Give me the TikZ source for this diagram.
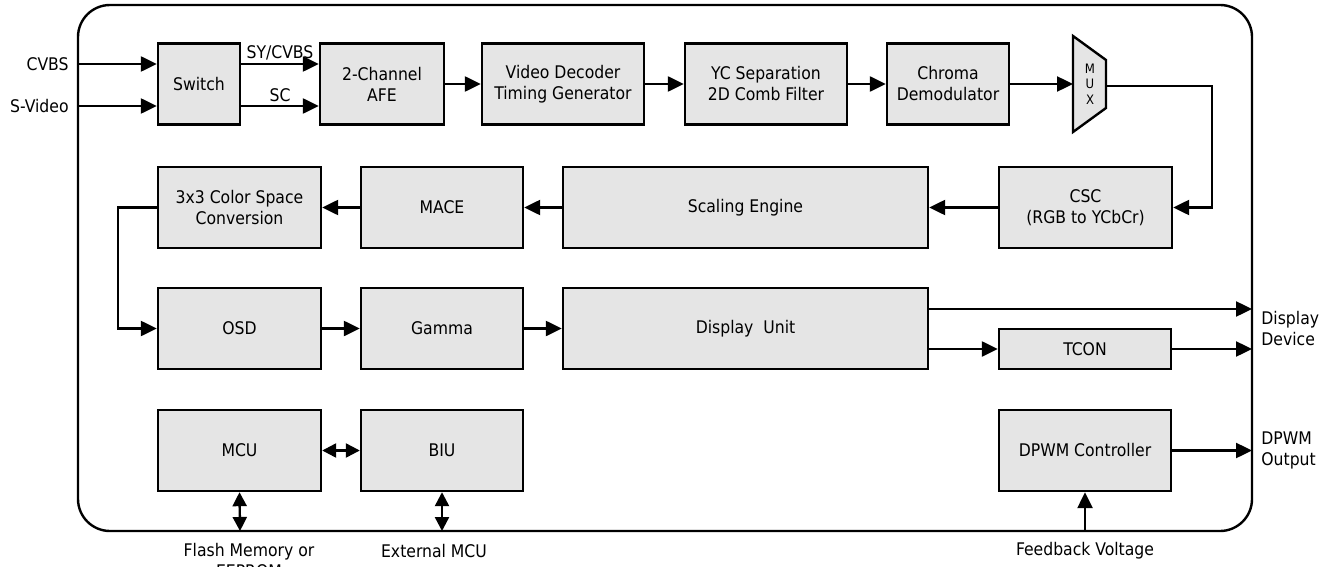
\documentclass[tikz,border=0pt]{standalone}
\usepackage{fontspec}
\setmainfont{DejaVu Sans Condensed}
\usetikzlibrary{arrows.meta}
\begin{document}
\begin{tikzpicture}[x=0.5pt,y=-0.5pt,
        every node/.append style={font=\fontsize{8.7}{10.5}\selectfont},
        blk/.style={draw,line width=1.2pt,fill=black!10,align=center,inner sep=0pt,minimum height=40.5pt},
        arr/.style={line width=1.2pt,-{Triangle[length=8pt,width=7.5pt]}},
        biarr/.style={line width=1.2pt,{Triangle[length=7pt,width=7pt]}-{Triangle[length=7pt,width=7pt]}},
        lbl/.style={align=left,inner sep=0pt}]
    \useasboundingbox (0,0) rectangle (1332,567);
    % chip outline
    \draw[line width=1.2pt,rounded corners=16pt] (78,5) rectangle (1252,531);
    % first row
    \node[blk,minimum width=41pt] (sw) at (199,84) {Switch};
    \node[blk,minimum width=62pt] (afe) at (382,84) {2-Channel\\AFE};
    \node[blk,minimum width=81pt] (vdec) at (563,84) {Video Decoder\\Timing Generator};
    \node[blk,minimum width=81pt] (yc) at (766,84) {YC Separation\\2D Comb Filter};
    \node[blk,minimum width=61pt] (chroma) at (948,84) {Chroma\\Demodulator};
    \draw[line width=1.2pt,fill=black!10] (1073,36) -- (1106,60) -- (1106,108) -- (1073,132) -- cycle;
    \node[align=center,inner sep=0pt,font=\fontsize{6.5}{7.75}\selectfont] (mux) at (1090,84) {M\\U\\X};
    % second row
    \node[blk,minimum width=86.5pt] (csc) at (1085.5,207.5) {CSC\\(RGB to YCbCr)};
    \node[blk,minimum width=182.5pt] (scale) at (745.5,207.5) {Scaling Engine};
    \node[blk,minimum width=81pt] (mace) at (442,207.5) {MACE};
    \node[blk,minimum width=81.5pt] (cs3) at (239.5,207.5) {3x3 Color Space\\Conversion};
    % third row
    \node[blk,minimum width=81.5pt] (osd) at (239.5,328.5) {OSD};
    \node[blk,minimum width=81pt] (gamma) at (442,328.5) {Gamma};
    \node[blk,minimum width=182.5pt] (disp) at (745.5,328.5) {Display\ \ Unit};
    \node[blk,minimum width=86pt,minimum height=20pt] (tcon) at (1085,349) {TCON};
    % fourth row
    \node[blk,minimum width=81.5pt] (mcu) at (239.5,450.5) {MCU};
    \node[blk,minimum width=81pt] (biu) at (442,450.5) {BIU};
    \node[blk,minimum width=86pt] (dpwm) at (1085,450.5) {DPWM Controller};
    % pins on the outline
    \coordinate (cvbsin) at (78,64);
    \coordinate (svin) at (78,106);
    \coordinate (muxin) at (1073,84);
    \coordinate (muxout) at (1106,86);
    \coordinate (muxbend) at (1212,86);
    \coordinate (cs3bend) at (118,207.5);
    \coordinate (dispout) at (1252,309);
    \coordinate (tconout) at (1252,349);
    \coordinate (dpwmout) at (1252,450.5);
    \coordinate (flashio) at (240,531);
    \coordinate (extio) at (442,531);
    \coordinate (fbin) at (1085,531);
    % outside labels
    \node[anchor=east,inner sep=0pt] (cvbs) at (69,64) {CVBS};
    \node[anchor=east,inner sep=0pt] (svideo) at (69,106) {S-Video};
    \node[inner sep=0pt] (sylbl) at (280,53) {SY/CVBS};
    \node[inner sep=0pt] (sclbl) at (280,95) {SC};
    \node[lbl,anchor=west] (dispdev) at (1261,329) {Display\\Device};
    \node[lbl,anchor=west] (dpwmlbl) at (1261,450) {DPWM\\Output};
    \node[anchor=north,align=center,inner sep=0pt] (flash) at (249,543) {Flash Memory or\\EEPROM};
    \node[inner sep=0pt] (extmcu) at (434,551) {External MCU};
    \node[inner sep=0pt] (fbv) at (1085,551) {Feedback Voltage};
    % connections
    \draw[arr] (cvbsin) -- (cvbsin -| sw.west);
    \draw[arr] (svin) -- (svin -| sw.west);
    \draw[arr] (sw.east |- cvbsin) -- (afe.west |- cvbsin);
    \draw[arr] (sw.east |- svin) -- (afe.west |- svin);
    \draw[arr] (afe.east) -- (vdec.west);
    \draw[arr] (vdec.east) -- (yc.west);
    \draw[arr] (yc.east) -- (chroma.west);
    \draw[arr] (chroma.east) -- (muxin);
    \draw[arr] (muxout) -- (muxbend) |- (csc.east);
    \draw[arr] (csc.west) -- (scale.east);
    \draw[arr] (scale.west) -- (mace.east);
    \draw[arr] (mace.west) -- (cs3.east);
    \draw[arr] (cs3.west) -- (cs3bend) |- (osd.west);
    \draw[arr] (osd.east) -- (gamma.west);
    \draw[arr] (gamma.east) -- (disp.west);
    \draw[arr] (disp.east |- dispout) -- (dispout);
    \draw[arr] (disp.east |- tconout) -- (tcon.west);
    \draw[arr] (tcon.east) -- (tconout);
    \draw[arr] (dpwm.east) -- (dpwmout);
    \draw[arr] (fbin) -- (dpwm.south);
    \draw[biarr] (mcu.east) -- (biu.west);
    \draw[biarr] (mcu.south) -- (flashio);
    \draw[biarr] (biu.south) -- (extio);
\end{tikzpicture}
\end{document}
